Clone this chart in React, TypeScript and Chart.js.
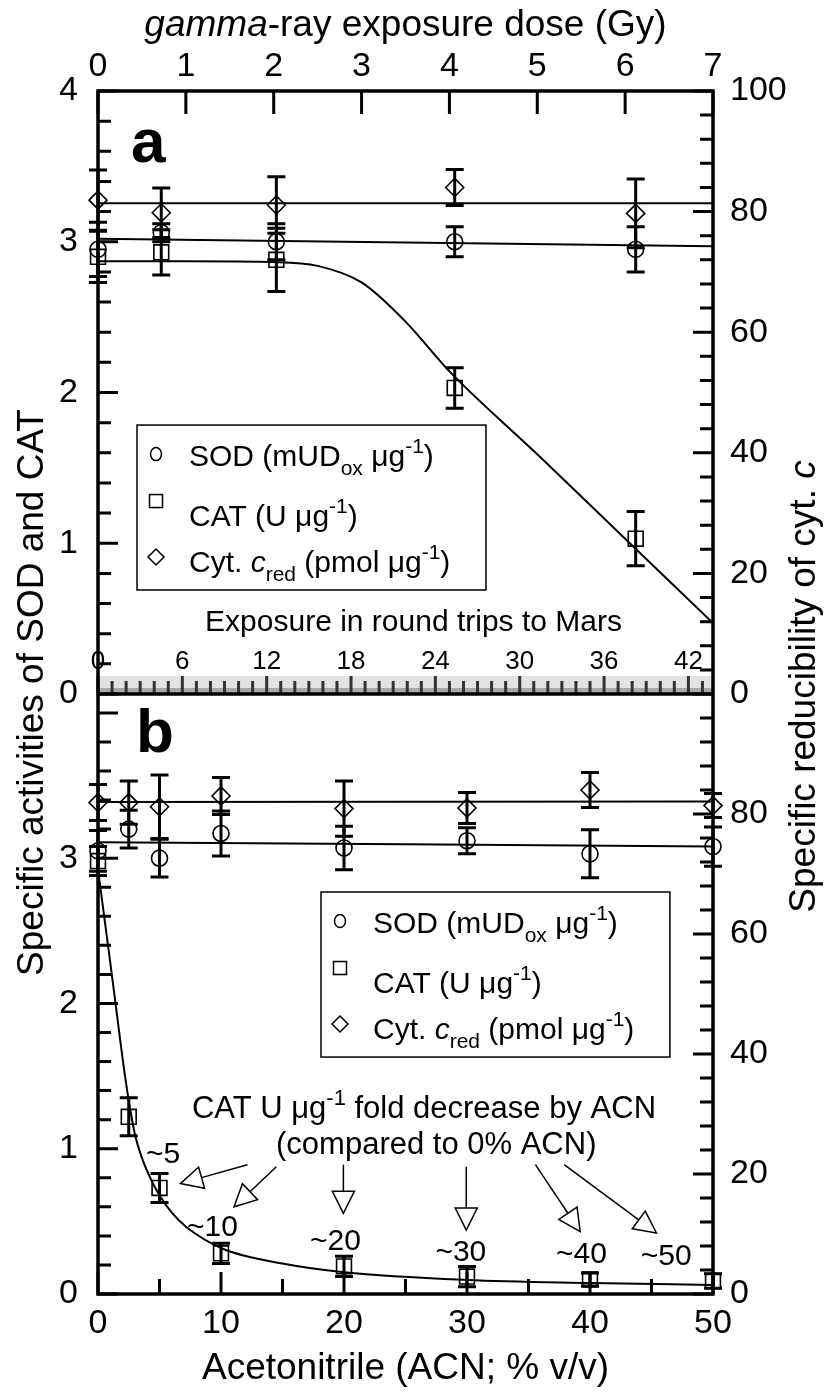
import React, { useEffect, useRef } from 'react';
import { Chart, registerables } from 'chart.js';

Chart.register(...registerables);

const FONT = "'Liberation Sans', Arial, Helvetica, sans-serif";

// ---------- Panel a : gamma-ray exposure dose (Gy) ----------
const GAMMA_DOSE = [0, 0.72, 2.03, 4.06, 6.12];
const SOD_A = [2.95, 3.06, 3.0, 3.0, 2.95];
const SOD_A_ERR = [0.18, 0.06, 0.12, 0.1, 0.15];
const CAT_A = [2.9, 2.93, 2.88, 2.03, 1.03];
const CAT_A_ERR = [0.17, 0.15, 0.21, 0.135, 0.18];
const CYT_A = [81.9, 79.8, 81.1, 84.0, 79.7];
const CYT_A_ERR = [5.0, 4.1, 4.7, 3.0, 5.7];

const SOD_A_FIT_X = [0, 7];
const SOD_A_FIT_Y = [3.02, 2.97];
const CAT_A_FIT_X = [0, 1, 2, 2.5, 3, 3.5, 4, 5, 6, 7];
const CAT_A_FIT_Y = [2.87, 2.87, 2.865, 2.84, 2.73, 2.47, 2.14, 1.59, 1.03, 0.47];
const CYT_A_FIT_X = [0, 7];
const CYT_A_FIT_Y = [81.4, 81.4];

// ---------- Panel b : acetonitrile (% v/v) ----------
const ACN = [0, 2.5, 5, 10, 20, 30, 40, 50];
const SOD_B = [3.05, 3.2, 3.0, 3.17, 3.07, 3.12, 3.03, 3.08];
const SOD_B_ERR = [0.14, 0.13, 0.13, 0.155, 0.15, 0.09, 0.165, 0.135];
const CAT_B = [2.98, 1.22, 0.73, 0.28, 0.19, 0.12, 0.1, 0.09];
const CAT_B_ERR = [0.1, 0.13, 0.1, 0.07, 0.07, 0.07, 0.045, 0.05];
const CYT_B = [81.9, 81.9, 81.2, 83.0, 80.9, 81.0, 84.0, 81.4];
const CYT_B_ERR = [3, 3.6, 5.3, 3.1, 4.6, 2.6, 2.9, 2];

const SOD_B_FIT_X = [0, 50];
const SOD_B_FIT_Y = [3.11, 3.08];
const CAT_B_FIT_X = [0, 1, 1.5, 2, 2.5, 3, 3.6, 4.3, 5, 6, 7.2, 10.2, 15, 20, 30, 40, 50];
const CAT_B_FIT_Y = [2.92, 2.28, 1.95, 1.62, 1.33, 1.1, 0.93, 0.79, 0.68, 0.56, 0.46, 0.31, 0.21, 0.15, 0.097, 0.076, 0.062];
const CYT_B_FIT_X = [0, 50];
const CYT_B_FIT_Y = [82.0, 82.1];

// ---------- axes ----------
const GAMMA_TICKS = [0, 1, 2, 3, 4, 5, 6, 7];
const ACN_TICKS = [0, 10, 20, 30, 40, 50];
const MARS_TICKS = [0, 6, 12, 18, 24, 30, 36, 42];
const LEFT_TICKS_A = [0, 1, 2, 3, 4];
const LEFT_TICKS_B = [0, 1, 2, 3];
const RIGHT_TICKS_A = [0, 20, 40, 60, 80, 100];
const RIGHT_TICKS_B = [0, 20, 40, 60, 80];
const GAMMA_MAX = 7;
const ACN_MAX = 50;
const MARS_MAX = 43.75;
const LEFT_MAX_A = 4;
const LEFT_MAX_B = 4.13;
const RIGHT_MAX = 100;

// ---------- annotations (panel b, in ACN / left-axis units) ----------
const FOLD_LABELS = ['~5', '~10', '~20', '~30', '~40', '~50'];
const FOLD_LABEL_POS = [[5.3, 0.957], [9.3, 0.454], [19.3, 0.358], [29.5, 0.282], [39.3, 0.268], [46.2, 0.255]];
const ARROW_FROM = [[12.15, 0.89], [14.5, 0.876], [19.95, 0.89], [29.94, 0.876], [35.56, 0.89], [37.9, 0.89]];
const ARROW_TO = [[6.7, 0.76], [11.06, 0.6], [19.95, 0.555], [29.94, 0.44], [39.2, 0.43], [45.4, 0.42]];

type Part = { t: string; it?: boolean; b?: boolean; sz?: number; dy?: number };

function fontOf(p: Part, base: number) {
  return `${p.it ? 'italic ' : ''}${p.b ? 'bold ' : ''}${p.sz ?? base}px ${FONT}`;
}

function drawRich(ctx: CanvasRenderingContext2D, parts: Part[], x: number, y: number, base: number, align: 'left' | 'center') {
  const ws = parts.map((p) => {
    ctx.font = fontOf(p, base);
    return ctx.measureText(p.t).width;
  });
  const total = ws.reduce((a, b) => a + b, 0);
  let cx = align === 'center' ? x - total / 2 : x;
  ctx.textAlign = 'left';
  parts.forEach((p, i) => {
    ctx.font = fontOf(p, base);
    ctx.fillText(p.t, cx, y + (p.dy || 0));
    cx += ws[i];
  });
}

const SUP = 21;
const LEGEND_ROWS: Part[][] = [
  [{ t: 'SOD (mUD' }, { t: 'ox', sz: SUP, dy: 9 }, { t: ' μg' }, { t: '-1', sz: SUP, dy: -13 }, { t: ')' }],
  [{ t: 'CAT (U μg' }, { t: '-1', sz: SUP, dy: -13 }, { t: ')' }],
  [{ t: 'Cyt. ' }, { t: 'c', it: true }, { t: 'red', sz: SUP, dy: 9 }, { t: ' (pmol μg' }, { t: '-1', sz: SUP, dy: -13 }, { t: ')' }],
];

function drawLegend(ctx: CanvasRenderingContext2D, x0: number, y0: number, x1: number, y1: number) {
  ctx.save();
  ctx.fillStyle = '#fff';
  ctx.fillRect(x0, y0, x1 - x0, y1 - y0);
  ctx.strokeStyle = '#000';
  ctx.lineWidth = 1.5;
  ctx.strokeRect(x0, y0, x1 - x0, y1 - y0);
  const mx = x0 + 19;
  ctx.beginPath();
  ctx.ellipse(mx, y0 + 29, 5.5, 6.5, 0, 0, Math.PI * 2);
  ctx.stroke();
  ctx.strokeRect(mx - 6.5, y0 + 76 - 6.5, 13, 13);
  ctx.beginPath();
  ctx.moveTo(mx, y0 + 132 - 8);
  ctx.lineTo(mx + 8, y0 + 132);
  ctx.lineTo(mx, y0 + 132 + 8);
  ctx.lineTo(mx - 8, y0 + 132);
  ctx.closePath();
  ctx.stroke();
  ctx.fillStyle = '#000';
  ctx.textBaseline = 'alphabetic';
  const tx = x0 + 52;
  drawRich(ctx, LEGEND_ROWS[0], tx, y0 + 41, 30, 'left');
  drawRich(ctx, LEGEND_ROWS[1], tx, y0 + 101, 30, 'left');
  drawRich(ctx, LEGEND_ROWS[2], tx, y0 + 147, 30, 'left');
  ctx.restore();
}

function vTicks(ctx: CanvasRenderingContext2D, scale: any, x0: number, dir: number, from: number, to: number, step: number, majorEvery: number, minLen: number, majLen: number) {
  const n = Math.round((to - from) / step);
  for (let k = 0; k <= n; k++) {
    const v = from + k * step;
    const y = scale.getPixelForValue(v);
    const len = k % majorEvery === 0 ? majLen : minLen;
    ctx.moveTo(x0, y);
    ctx.lineTo(x0 + dir * len, y);
  }
}

function hTicks(ctx: CanvasRenderingContext2D, scale: any, y0: number, dir: number, from: number, to: number, step: number, majorEvery: number, minLen: number, majLen: number) {
  const n = Math.round((to - from) / step);
  for (let k = 0; k <= n; k++) {
    const v = from + k * step;
    const x = scale.getPixelForValue(v);
    const len = k % majorEvery === 0 ? majLen : minLen;
    ctx.moveTo(x, y0);
    ctx.lineTo(x, y0 + dir * len);
  }
}

function drawArrow(ctx: CanvasRenderingContext2D, x1: number, y1: number, x2: number, y2: number) {
  const dx = x2 - x1;
  const dy = y2 - y1;
  const L = Math.hypot(dx, dy);
  const ux = dx / L;
  const uy = dy / L;
  const head = 22;
  const hw = 11;
  const bx = x2 - ux * head;
  const by = y2 - uy * head;
  ctx.beginPath();
  ctx.moveTo(x1, y1);
  ctx.lineTo(bx, by);
  ctx.stroke();
  ctx.beginPath();
  ctx.moveTo(x2, y2);
  ctx.lineTo(bx - uy * hw, by + ux * hw);
  ctx.lineTo(bx + uy * hw, by - ux * hw);
  ctx.closePath();
  ctx.fillStyle = '#fff';
  ctx.fill();
  ctx.stroke();
}

const figurePlugin = {
  id: 'figurePlugin',
  afterDatasetsDraw(chart: any) {
    const ctx: CanvasRenderingContext2D = chart.ctx;
    const s = chart.scales;
    ctx.save();
    ctx.strokeStyle = '#000';
    ctx.lineWidth = 3;
    chart.data.datasets.forEach((ds: any) => {
      if (!ds.err) return;
      const xs = s[ds.xAxisID];
      const ys = s[ds.yAxisID];
      ds.data.forEach((d: any, j: number) => {
        const e = ds.err[j];
        const px = xs.getPixelForValue(d.x);
        const yt = ys.getPixelForValue(d.y + e);
        const yb = ys.getPixelForValue(d.y - e);
        ctx.beginPath();
        ctx.moveTo(px, yt);
        ctx.lineTo(px, yb);
        ctx.moveTo(px - 9, yt);
        ctx.lineTo(px + 9, yt);
        ctx.moveTo(px - 9, yb);
        ctx.lineTo(px + 9, yb);
        ctx.stroke();
      });
    });
    ctx.restore();
  },
  afterDraw(chart: any) {
    const ctx: CanvasRenderingContext2D = chart.ctx;
    const s = chart.scales;
    const A = chart.chartArea;
    const mid = s.yaL.getPixelForValue(0);
    ctx.save();

    // Mars strip (inside panel a, on its zero line)
    ctx.fillStyle = 'rgba(200,200,200,0.5)';
    ctx.fillRect(A.left, mid - 18, A.right - A.left, 18);
    ctx.fillStyle = 'rgba(130,130,130,0.6)';
    ctx.fillRect(A.left, mid - 6, A.right - A.left, 6);
    ctx.strokeStyle = '#333';
    ctx.lineWidth = 3;
    ctx.beginPath();
    hTicks(ctx, s.xm, mid, -1, 0, 43, 1, 6, 13, 18);
    ctx.stroke();
    ctx.fillStyle = '#000';
    ctx.textAlign = 'center';
    ctx.textBaseline = 'middle';
    ctx.font = `26px ${FONT}`;
    MARS_TICKS.forEach((t) => ctx.fillText(String(t), s.xm.getPixelForValue(t), mid - 32));
    ctx.font = `30px ${FONT}`;
    ctx.fillText('Exposure in round trips to Mars', (A.left + A.right) / 2 + 8, mid - 71);

    // frame
    ctx.strokeStyle = '#000';
    ctx.lineWidth = 3.5;
    ctx.strokeRect(A.left, A.top, A.right - A.left, A.bottom - A.top);
    ctx.beginPath();
    ctx.moveTo(A.left, mid);
    ctx.lineTo(A.right, mid);
    ctx.stroke();

    // inward ticks
    ctx.lineWidth = 3;
    ctx.beginPath();
    vTicks(ctx, s.yaL, A.left, 1, 0, LEFT_MAX_A, 0.2, 5, 13, 20);
    vTicks(ctx, s.ybL, A.left, 1, 0, 4, 0.2, 5, 13, 20);
    vTicks(ctx, s.yaR, A.right, -1, 0, RIGHT_MAX, 4, 5, 13, 20);
    vTicks(ctx, s.ybR, A.right, -1, 0, RIGHT_MAX, 4, 5, 13, 20);
    hTicks(ctx, s.xa, A.top, 1, 0, GAMMA_MAX, 1, 1, 23, 23);
    hTicks(ctx, s.xb, A.bottom, -1, 0, ACN_MAX, 5, 2, 15, 22);
    ctx.stroke();

    // panel letters
    ctx.fillStyle = '#000';
    ctx.textAlign = 'left';
    ctx.textBaseline = 'alphabetic';
    ctx.font = `bold 62px ${FONT}`;
    ctx.fillText('a', s.xa.getPixelForValue(0.376), s.yaL.getPixelForValue(3.53));
    ctx.fillText('b', s.xb.getPixelForValue(3.09), s.ybL.getPixelForValue(3.73));

    // axis titles
    drawRich(ctx, [{ t: 'gamma', it: true }, { t: '-ray exposure dose (Gy)' }], (A.left + A.right) / 2, 36, 37, 'center');
    drawRich(ctx, [{ t: 'Acetonitrile (ACN; % v/v)' }], (A.left + A.right) / 2, 1379, 37, 'center');
    ctx.save();
    ctx.translate(33, (A.top + A.bottom) / 2);
    ctx.rotate(-Math.PI / 2);
    ctx.textBaseline = 'middle';
    drawRich(ctx, [{ t: 'Specific activities of SOD and CAT' }], 0, 0, 37, 'center');
    ctx.restore();
    ctx.save();
    ctx.translate(805, (A.top + A.bottom) / 2 - 6);
    ctx.rotate(-Math.PI / 2);
    ctx.textBaseline = 'middle';
    drawRich(ctx, [{ t: 'Specific reducibility of cyt. ' }, { t: 'c', it: true }], 0, 0, 37, 'center');
    ctx.restore();

    // legends
    drawLegend(ctx, s.xa.getPixelForValue(0.444), s.yaL.getPixelForValue(1.784), s.xa.getPixelForValue(4.416), s.yaL.getPixelForValue(0.69));
    drawLegend(ctx, s.xb.getPixelForValue(18.13), s.ybL.getPixelForValue(2.767), s.xb.getPixelForValue(46.5), s.ybL.getPixelForValue(1.631));

    // annotation text
    ctx.fillStyle = '#000';
    ctx.textBaseline = 'alphabetic';
    drawRich(ctx, [{ t: 'CAT U μg' }, { t: '-1', sz: 22, dy: -13 }, { t: ' fold decrease by ACN' }], s.xb.getPixelForValue(26.5), s.ybL.getPixelForValue(1.287) + 11, 31, 'center');
    drawRich(ctx, [{ t: '(compared to 0% ACN)' }], s.xb.getPixelForValue(27.5), s.ybL.getPixelForValue(1.04) + 11, 31, 'center');

    // arrows
    ctx.strokeStyle = '#000';
    ctx.lineWidth = 1.5;
    ARROW_FROM.forEach((f, i) => {
      const t = ARROW_TO[i];
      drawArrow(ctx, s.xb.getPixelForValue(f[0]), s.ybL.getPixelForValue(f[1]), s.xb.getPixelForValue(t[0]), s.ybL.getPixelForValue(t[1]));
    });
    ctx.fillStyle = '#000';
    ctx.textAlign = 'center';
    ctx.textBaseline = 'middle';
    ctx.font = `30px ${FONT}`;
    FOLD_LABELS.forEach((lab, i) => {
      const p = FOLD_LABEL_POS[i];
      ctx.fillText(lab, s.xb.getPixelForValue(p[0]), s.ybL.getPixelForValue(p[1]));
    });

    ctx.restore();
  },
};

function pts(xs: number[], ys: number[]) {
  return xs.map((x, i) => ({ x, y: ys[i] }));
}

function markerSet(label: string, xs: number[], ys: number[], err: number[], xAxisID: string, yAxisID: string, pointStyle: string, r: number) {
  return {
    type: 'scatter',
    label,
    data: pts(xs, ys),
    err,
    xAxisID,
    yAxisID,
    pointStyle,
    pointRadius: r,
    pointBorderWidth: 1.6,
    pointBorderColor: '#000',
    pointBackgroundColor: 'rgba(0,0,0,0)',
    showLine: false,
    clip: false,
    order: 1,
  };
}

function fitSet(xs: number[], ys: number[], xAxisID: string, yAxisID: string) {
  return {
    type: 'line',
    label: 'fit',
    data: pts(xs, ys),
    xAxisID,
    yAxisID,
    borderColor: '#000',
    borderWidth: 2,
    pointRadius: 0,
    fill: false,
    cubicInterpolationMode: 'monotone',
    showLine: true,
    order: 2,
  };
}

const tickFont = { family: FONT, size: 34 };

function axis(extra: any, tickList: number[], padding: number, size: { w?: number; h?: number }) {
  return {
    type: 'linear',
    bounds: 'data',
    grid: { display: false, drawTicks: false },
    border: { display: false },
    ticks: { font: tickFont, color: '#000', padding, autoSkip: false, maxRotation: 0 },
    afterBuildTicks: (sc: any) => {
      sc.ticks = tickList.map((v) => ({ value: v }));
    },
    afterFit: (sc: any) => {
      if (size.w !== undefined) sc.width = size.w;
      if (size.h !== undefined) sc.height = size.h;
    },
    ...extra,
  };
}

export default function App() {
  const ref = useRef<HTMLCanvasElement>(null);
  useEffect(() => {
    const canvas = ref.current;
    if (!canvas) return;
    const datasets: any[] = [
      fitSet(CYT_A_FIT_X, CYT_A_FIT_Y, 'xa', 'yaR'),
      fitSet(SOD_A_FIT_X, SOD_A_FIT_Y, 'xa', 'yaL'),
      fitSet(CAT_A_FIT_X, CAT_A_FIT_Y, 'xa', 'yaL'),
      markerSet('SOD a', GAMMA_DOSE, SOD_A, SOD_A_ERR, 'xa', 'yaL', 'circle', 8),
      markerSet('CAT a', GAMMA_DOSE, CAT_A, CAT_A_ERR, 'xa', 'yaL', 'rect', 10.5),
      markerSet('Cyt a', GAMMA_DOSE, CYT_A, CYT_A_ERR, 'xa', 'yaR', 'rectRot', 9),
      fitSet(CYT_B_FIT_X, CYT_B_FIT_Y, 'xb', 'ybR'),
      fitSet(SOD_B_FIT_X, SOD_B_FIT_Y, 'xb', 'ybL'),
      fitSet(CAT_B_FIT_X, CAT_B_FIT_Y, 'xb', 'ybL'),
      markerSet('SOD b', ACN, SOD_B, SOD_B_ERR, 'xb', 'ybL', 'circle', 8),
      markerSet('CAT b', ACN, CAT_B, CAT_B_ERR, 'xb', 'ybL', 'rect', 10.5),
      markerSet('Cyt b', ACN, CYT_B, CYT_B_ERR, 'xb', 'ybR', 'rectRot', 9),
    ];
    const chart = new Chart(canvas, {
      type: 'scatter',
      data: { datasets },
      options: {
        responsive: false,
        maintainAspectRatio: false,
        devicePixelRatio: 1,
        animation: false,
        events: [],
        layout: { padding: 0, autoPadding: false },
        plugins: { legend: { display: false }, tooltip: { enabled: false } },
        scales: {
          xa: axis({ position: 'top', min: 0, max: GAMMA_MAX }, GAMMA_TICKS, 4, { h: 91 }),
          xb: axis({ position: 'bottom', min: 0, max: ACN_MAX }, ACN_TICKS, 9, { h: 99 }),
          xm: { type: 'linear', axis: 'x', position: 'bottom', display: false, min: 0, max: MARS_MAX, bounds: 'data' },
          yaL: axis({ position: 'left', stack: 'L', stackWeight: 603, weight: 2, min: 0, max: LEFT_MAX_A }, LEFT_TICKS_A, 20, { w: 98 }),
          ybL: axis({ position: 'left', stack: 'L', stackWeight: 600, weight: 1, min: 0, max: LEFT_MAX_B }, LEFT_TICKS_B, 20, { w: 98 }),
          yaR: axis({ position: 'right', stack: 'R', stackWeight: 603, weight: 1, min: 0, max: RIGHT_MAX }, RIGHT_TICKS_A, 17, { w: 113 }),
          ybR: axis({ position: 'right', stack: 'R', stackWeight: 600, weight: 2, min: 0, max: RIGHT_MAX }, RIGHT_TICKS_B, 17, { w: 113 }),
        },
      } as any,
      plugins: [figurePlugin],
    } as any);
    return () => chart.destroy();
  }, []);
  return (
    <div style={{ position: 'absolute', left: 0, top: 0, width: 826, height: 1393, background: '#fff' }}>
      <canvas ref={ref} width={826} height={1393} style={{ display: 'block', width: 826, height: 1393 }} />
    </div>
  );
}
